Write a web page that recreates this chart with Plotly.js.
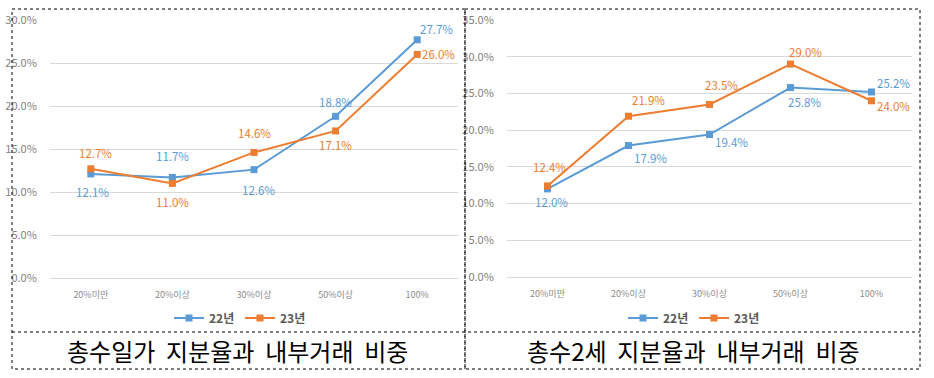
<!DOCTYPE html>
<html><head><meta charset="utf-8">
<script src="https://cdn.plot.ly/plotly-3.0.1.min.js"></script>
<style>html,body{margin:0;padding:0;background:#fff}#c{width:934px;height:378px}</style>
</head><body><div id="c"></div>
<script>
const categories = ['20%미만','20%이상','30%이상','50%이상','100%'];
const seriesNames = ['22년','23년'];
const left22 = [12.1, 11.7, 12.6, 18.8, 27.7];
const left23 = [12.7, 11.0, 14.6, 17.1, 26.0];
const right22 = [12.0, 17.9, 19.4, 25.8, 25.2];
const right23 = [12.4, 21.9, 23.5, 29.0, 24.0];
const leftTitle = '총수일가\u00a0\u00a0지분율과\u00a0\u00a0내부거래\u00a0\u00a0비중';
const rightTitle = '총수2세\u00a0\u00a0지분율과\u00a0\u00a0내부거래\u00a0\u00a0비중';

const W = 934, H = 378;
const px = x => x / W, py = y => 1 - y / H;
const BLUE = '#5B9BD5', ORANGE = '#ED7D31';
const FONT = '"Noto Sans CJK KR", "Noto Sans", sans-serif';

// label offsets (px): [dx, dy] with dy positive downward
const offL22 = [[2,18],[0,-21],[4,20],[0,-14],[19,-11]];
const offL23 = [[5,-16],[0,19],[0,-19],[0,14],[21,0]];
const offR22 = [[4,13],[22,12],[22,7],[14,14],[22,-9]];
const offR23 = [[2,-19],[20,-16],[12,-19],[15,-12],[22,5]];

function trace(vals, name, color, xa, ya, legend) {
  return {x: categories, y: vals, name: name, type: 'scatter', mode: 'lines+markers',
    xaxis: xa, yaxis: ya, legend: legend,
    line: {color: color, width: 2}, marker: {color: color, symbol: 'square', size: 7},
    hoverinfo: 'skip'};
}
const data = [
  trace(left22, seriesNames[0], BLUE, 'x', 'y', 'legend'),
  trace(left23, seriesNames[1], ORANGE, 'x', 'y', 'legend'),
  trace(right22, seriesNames[0], BLUE, 'x2', 'y2', 'legend2'),
  trace(right23, seriesNames[1], ORANGE, 'x2', 'y2', 'legend2')
];

const annotations = [];
function labels(vals, offs, color, xr, yr) {
  vals.forEach((v, i) => annotations.push({x: categories[i], y: v, xref: xr, yref: yr,
    xanchor:'center', yanchor:'middle',
    text: v.toFixed(1) + '%', showarrow: false, xshift: offs[i][0], yshift: -offs[i][1],
    font: {family: FONT, size: 11.5, color: color}}));
}
labels(left22, offL22, BLUE, 'x', 'y');
labels(left23, offL23, ORANGE, 'x', 'y');
labels(right22, offR22, BLUE, 'x2', 'y2');
labels(right23, offR23, ORANGE, 'x2', 'y2');
annotations.push({xref:'paper', yref:'paper', x: px(238), y: py(350), xanchor:'center', yanchor:'middle',
  text: leftTitle, showarrow:false, font:{family: FONT, size: 24, color:'#000'}});
annotations.push({xref:'paper', yref:'paper', x: px(693), y: py(350), xanchor:'center', yanchor:'middle',
  text: rightTitle, showarrow:false, font:{family: FONT, size: 24, color:'#000'}});

const dot = {color:'#000', width:1, dash:'dot'};
const shapes = [
  {type:'rect', xref:'paper', yref:'paper', x0:px(12), x1:px(465), y0:py(9), y1:py(369), line:dot},
  {type:'rect', xref:'paper', yref:'paper', x0:px(465), x1:px(920), y0:py(9), y1:py(369), line:dot},
  {type:'line', xref:'paper', yref:'paper', x0:px(12), x1:px(920), y0:py(332), y1:py(332), line:dot}
];

function xaxis(d0, d1, anchor) {
  return {domain:[px(d0), px(d1)], anchor: anchor, type:'category', range:[-0.5, categories.length - 0.5],
    showgrid:false, zeroline:false,
    showline:false, ticks:'outside', ticklen:8, tickcolor:'rgba(0,0,0,0)',
    tickfont:{family: FONT, size: 9, color:'#8C8C8C'}, fixedrange:true};
}
function yaxis(top, bot, maxv, anchor) {
  return {domain:[py(bot), py(top)], anchor: anchor, range:[0, maxv], dtick:5, tickformat:'.1f', ticksuffix:'%',
    showgrid:true, gridcolor:'#D9D9D9', gridwidth:1, zeroline:true, zerolinecolor:'#D9D9D9', zerolinewidth:1,
    showline:false, ticks:'outside', ticklen:10, tickcolor:'rgba(0,0,0,0)',
    tickfont:{family: FONT, size: 11, color:'#7F7F7F'}, fixedrange:true};
}

const legendBase = {orientation:'h', xanchor:'center', yanchor:'middle', bgcolor:'rgba(0,0,0,0)',
  font:{family: FONT, size: 12, color:'#595959', weight: 'bold'}, itemwidth:30, tracegroupgap:0,
  entrywidth: 26, entrywidthmode: 'pixels'};

const layout = {
  width: W, height: H, margin:{l:0, r:0, t:0, b:0}, paper_bgcolor:'#fff', plot_bgcolor:'rgba(0,0,0,0)',
  showlegend: true,
  xaxis: xaxis(50, 458, 'y'),
  yaxis: yaxis(20, 278, 30, 'x'),
  xaxis2: xaxis(507, 912, 'y2'),
  yaxis2: yaxis(20, 277, 35, 'x2'),
  legend: Object.assign({x: px(240), y: py(318)}, legendBase),
  legend2: Object.assign({x: px(694), y: py(318)}, legendBase),
  annotations: annotations, shapes: shapes
};
Plotly.newPlot('c', data, layout, {displayModeBar:false, staticPlot:true});
</script></body></html>
